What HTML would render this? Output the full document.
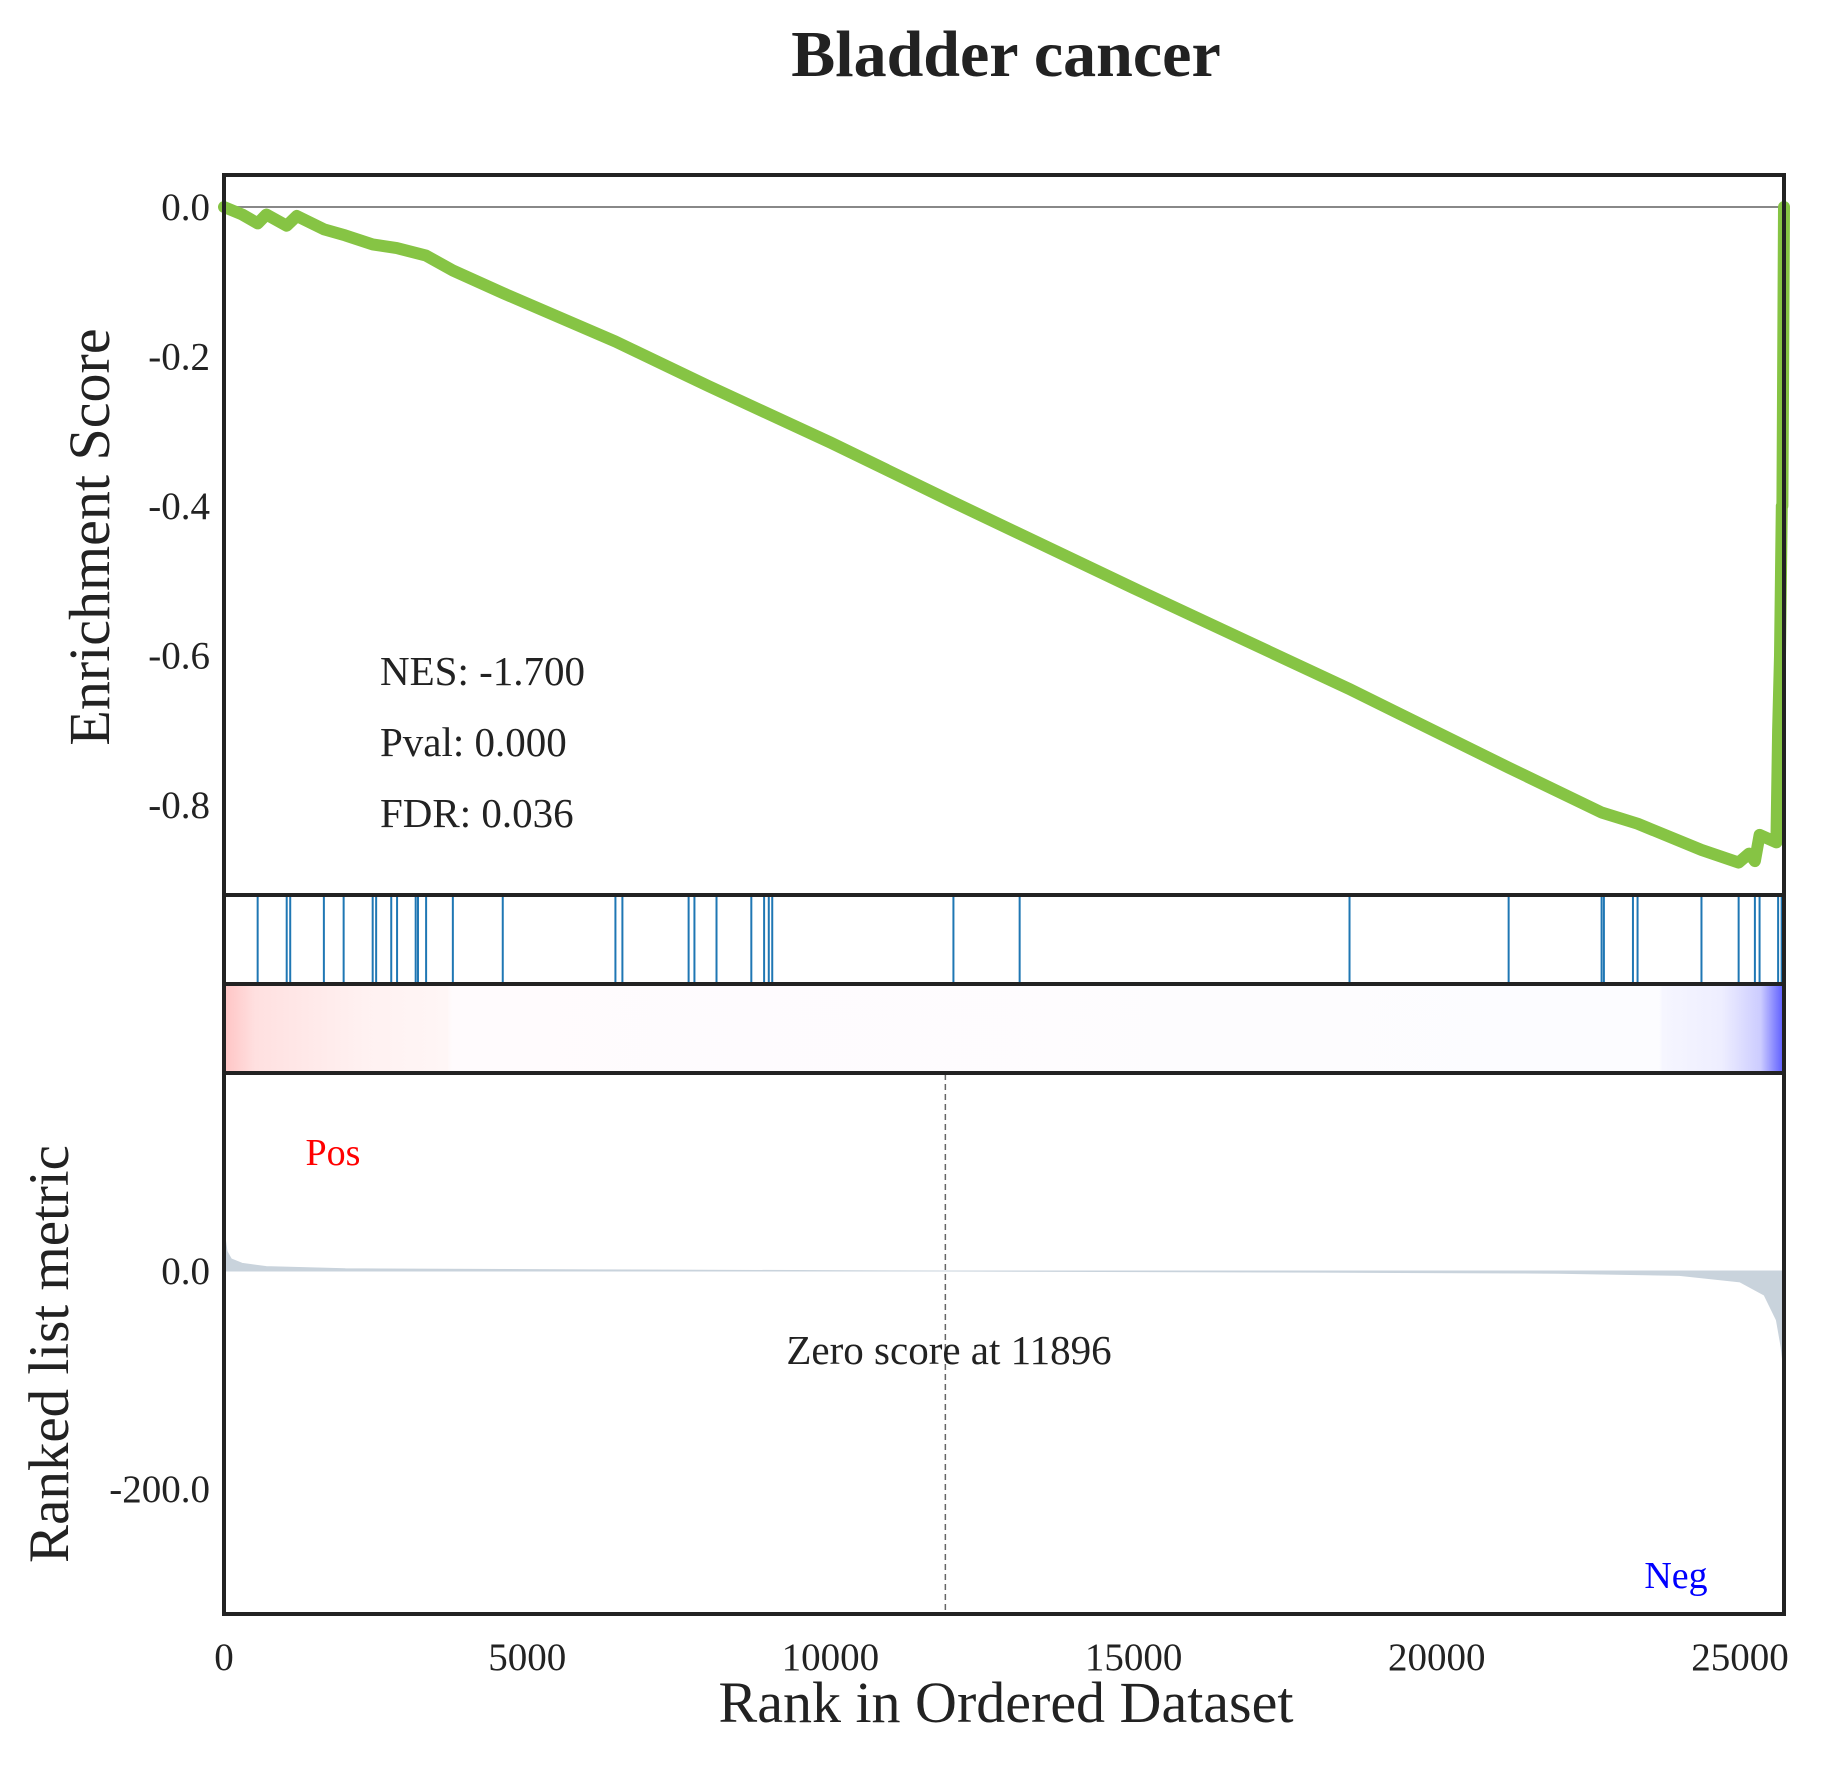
<!DOCTYPE html>
<html><head><meta charset="utf-8"><style>
body{margin:0;background:#fff}
svg{display:block;font-family:"Liberation Serif",serif}
</style></head><body>
<svg id="chart" width="1822" height="1767" viewBox="0 0 1822 1767" xmlns="http://www.w3.org/2000/svg">
<text x="1006" y="76" text-anchor="middle" font-size="66" font-weight="bold" fill="#222">Bladder cancer</text>
<g id="es"></g><g id="hits"></g><g id="cbar"></g><g id="rank"></g><g id="axes"></g>
</svg>
<script>
const esRanks=[0,300,555,700,1034,1200,1650,2000,2452,2850,3333,3774,4597,6455,8000,10000,12029,15000,18561,21185,22718,23311,24365,24978,25150,25246,25323,25600,25629,25660,25690,25700,25726];
const esValues=[0,-0.01,-0.022,-0.01,-0.025,-0.012,-0.03,-0.038,-0.05,-0.055,-0.065,-0.085,-0.115,-0.18,-0.24,-0.315,-0.395,-0.51,-0.645,-0.75,-0.81,-0.825,-0.86,-0.877,-0.865,-0.875,-0.84,-0.85,-0.70,-0.60,-0.40,-0.40,0.0];
const hitRanks=[555,1034,1092,1647,1973,2452,2509,2758,2854,3161,3199,3333,3774,4597,6455,6570,7662,7758,8122,8696,8907,8984,9041,12029,13121,18561,21185,22718,22756,23235,23311,24365,24978,25246,25323,25629,25687];
const metricRanks=[0,20,50,120,300,700,2000,6000,11896,18000,22000,24000,25000,25400,25600,25680,25726];
const metricValues=[57,30,18,11,7,4,2,1,0,-1,-2,-4,-10,-22,-45,-70,-93];
const esTicks=[0,-0.2,-0.4,-0.6,-0.8];
const esTickLabels=["0.0","-0.2","-0.4","-0.6","-0.8"];
const metricTicks=[0,-200];
const metricTickLabels=["0.0","-200.0"];
const xTicks=[0,5000,10000,15000,20000,25000];
const xTickLabels=["0","5000","10000","15000","20000","25000"];
const zeroRank=11896;
const NS="http://www.w3.org/2000/svg";
const L=224,R=1784,XMAX=25726;
const x=r=>L+r/XMAX*(R-L);
const yES=v=>207-v*747.5;
const yM=v=>1271-v*1.09;
function mk(tag,attrs,parent){const e=document.createElementNS(NS,tag);for(const k in attrs)e.setAttribute(k,attrs[k]);document.getElementById(parent).appendChild(e);return e;}
let z=mk('line',{x1:L,x2:R,y1:yES(0),y2:yES(0),stroke:'#888','stroke-width':2},'es');


let d=esRanks.map((r,i)=>(i?'L':'M')+x(r).toFixed(1)+','+yES(esValues[i]).toFixed(1)).join(' ');
let p=mk('path',{d:d,fill:'none',stroke:'#86c444','stroke-width':12,'stroke-linejoin':'round','stroke-linecap':'round'},'es');


[["NES: -1.700",685],["Pval: 0.000",756],["FDR: 0.036",827]].forEach(([t,yy],i)=>{const e=mk('text',{x:380,y:yy,'font-size':41,fill:'#222'},'es');e.textContent=t;

});
hitRanks.forEach(r=>{const e=mk('line',{x1:x(r),x2:x(r),y1:897,y2:982,stroke:'#1f77b4','stroke-width':2},'hits');

});
const defs=mk('defs',{},'cbar');
const g=document.createElementNS(NS,'linearGradient');g.setAttribute('id','cg');defs.appendChild(g);
[[0,'#ffc4c4'],[0.02,'#ffe0e0'],[0.06,'#ffeaea'],[0.09,'#fff1f1'],[0.143,'#fff6f6'],[0.146,'#fffbfd'],[0.92,'#fcfcff'],[0.922,'#f6f6ff'],[0.96,'#eeeeff'],[0.985,'#ccccff'],[1,'#5a5aff']].forEach(([o,c])=>{const s=document.createElementNS(NS,'stop');s.setAttribute('offset',o);s.setAttribute('stop-color',c);g.appendChild(s);});
let cb=mk('rect',{x:L,y:986,width:R-L,height:86,fill:'url(#cg)'},'cbar');


let md='M'+x(0)+','+yM(0)+' '+metricRanks.map((r,i)=>'L'+x(r).toFixed(1)+','+yM(metricValues[i]).toFixed(1)).join(' ')+' L'+x(XMAX)+','+yM(0)+'Z';
let mf=mk('path',{d:md,fill:'#c9d3dc',stroke:'#c9d3dc','stroke-width':1},'rank');


let zl=mk('line',{x1:x(zeroRank),x2:x(zeroRank),y1:1074,y2:1613,stroke:'#666','stroke-width':1.5,'stroke-dasharray':'6,4'},'rank');


let zt=mk('text',{x:949,y:1364,'text-anchor':'middle','font-size':41,fill:'#222'},'rank');zt.textContent='Zero score at '+zeroRank;


let pt=mk('text',{x:333,y:1165,'text-anchor':'middle','font-size':38,fill:'#ff0000'},'rank');pt.textContent='Pos';


let nt=mk('text',{x:1676,y:1588,'text-anchor':'middle','font-size':38,fill:'#0000ff'},'rank');nt.textContent='Neg';


esTicks.forEach((v,i)=>{const e=mk('text',{x:210,y:yES(v)+13,'text-anchor':'end','font-size':39,fill:'#222'},'axes');e.textContent=esTickLabels[i];

});
metricTicks.forEach((v,i)=>{const e=mk('text',{x:210,y:yM(v)+13,'text-anchor':'end','font-size':39,fill:'#222'},'axes');e.textContent=metricTickLabels[i];

});
xTicks.forEach((v,i)=>{const e=mk('text',{x:x(v),y:1670,'text-anchor':'middle','font-size':39,fill:'#222'},'axes');e.textContent=xTickLabels[i];

});
[[175,895],[895,984],[984,1073],[1073,1614]].forEach(([a,b])=>{const e=mk('rect',{x:L,y:a,width:R-L,height:b-a,fill:'none',stroke:'#222','stroke-width':4},'axes');

});
let yl=mk('text',{transform:'translate(109,537) rotate(-90)','text-anchor':'middle','font-size':58,fill:'#222'},'axes');yl.textContent='Enrichment Score';


let yl2=mk('text',{transform:'translate(68,1354) rotate(-90)','text-anchor':'middle','font-size':57,fill:'#222'},'axes');yl2.textContent='Ranked list metric';


let xl=mk('text',{x:1006,y:1722,'text-anchor':'middle','font-size':58,fill:'#222'},'axes');xl.textContent='Rank in Ordered Dataset';


</script>
</body></html>
